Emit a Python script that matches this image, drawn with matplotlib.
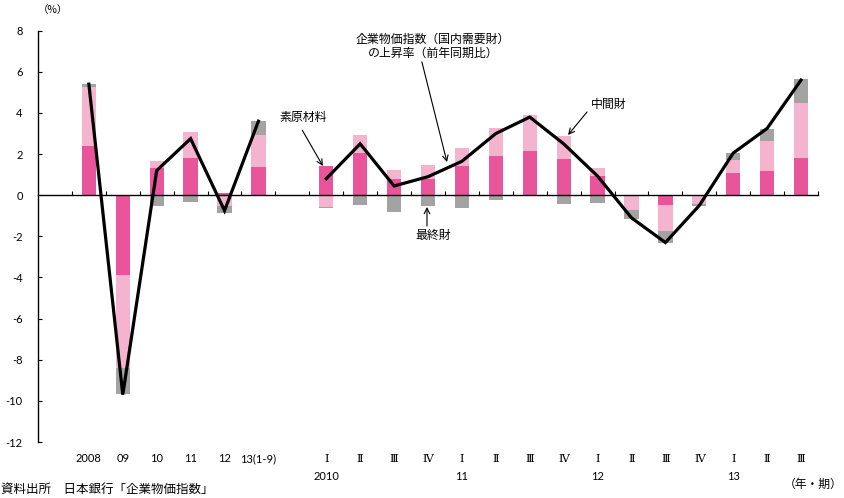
import numpy as np
import matplotlib
matplotlib.use("Agg")
import matplotlib.pyplot as plt

plt.rcParams['font.family'] = ['Noto Sans CJK JP', 'DejaVu Sans']

# 年次（2008〜13年1-9月）
annual_labels = ['2008', '09', '10', '11', '12', '13(1-9)']
annual_raw = [2.40, -3.90, 1.30, 1.80, 0.10, 1.35]      # 素原材料
annual_inter = [2.85, -4.50, 0.35, 1.25, -0.50, 1.60]   # 中間財
annual_final = [0.15, -1.25, -0.50, -0.35, -0.35, 0.65] # 最終財
annual_cgpi = [5.40, -9.70, 1.20, 2.75, -0.75, 3.60]    # 国内需要財

# 四半期（2010年Ⅰ期〜2013年Ⅲ期）
quarter_labels = ['Ⅰ', 'Ⅱ', 'Ⅲ', 'Ⅳ'] * 3 + ['Ⅰ', 'Ⅱ', 'Ⅲ']
quarter_years = ['2010', '', '', '', '11', '', '', '', '12', '', '', '', '13', '', '']
q_raw = [1.40, 2.05, 0.80, 0.78, 1.43, 1.90, 2.15, 1.75, 0.93, 0.00, -0.49, 0.00, 1.10, 1.17, 1.82]
q_inter = [-0.57, 0.90, 0.42, 0.70, 0.85, 1.35, 1.75, 1.15, 0.40, -0.70, -1.26, -0.44, 0.60, 1.46, 2.67]
q_final = [-0.06, -0.48, -0.80, -0.52, -0.60, -0.25, -0.05, -0.42, -0.36, -0.45, -0.55, -0.08, 0.33, 0.58, 1.14]
q_cgpi = [0.80, 2.50, 0.45, 0.90, 1.65, 3.00, 3.80, 2.50, 0.93, -1.10, -2.30, -0.50, 2.05, 3.25, 5.60]

colors = ['#E8559A', '#F4B4CF', '#A3A3A3']
num_font = ['Lato', 'Noto Sans CJK JP']
roman_font = ['DejaVu Serif', 'Noto Sans CJK JP']

x_annual = np.arange(1, 7)
x_quarter = np.arange(8, 23)

fig = plt.figure(figsize=(8.45, 4.98), dpi=100)
ax = fig.add_axes([38 / 845, 1 - 442 / 498, 780 / 845, 411.3 / 498])


def stacked(x, parts):
    # プラスとマイナスを別々に積み上げる
    pos = np.zeros(len(x))
    neg = np.zeros(len(x))
    for vals, c in zip(parts, colors):
        vals = np.asarray(vals, dtype=float)
        bottom = np.where(vals >= 0, pos, neg)
        ax.bar(x, vals, bottom=bottom, width=0.42, color=c, linewidth=0, zorder=2)
        pos = pos + np.clip(vals, 0, None)
        neg = neg + np.clip(vals, None, 0)


stacked(x_annual, [annual_raw, annual_inter, annual_final])
stacked(x_quarter, [q_raw, q_inter, q_final])

ax.plot(x_annual, annual_cgpi, color='black', lw=2.3, zorder=4, solid_joinstyle='miter')
ax.plot(x_quarter, q_cgpi, color='black', lw=2.3, zorder=4, solid_joinstyle='miter')

# 軸
ax.set_xlim(-0.5, 22.5)
ax.set_ylim(-12, 8)
for s in ['top', 'right']:
    ax.spines[s].set_visible(False)
ax.spines['bottom'].set_position(('data', 0))
ax.spines['bottom'].set_linewidth(1.0)
ax.spines['bottom'].set_zorder(3)
ax.spines['left'].set_linewidth(1.0)
ax.set_xticks(np.arange(0.5, 23, 1))
ax.tick_params(axis='x', direction='in', length=3, width=0.8, labelbottom=False)
ax.set_yticks(np.arange(-12, 9, 2))
ax.set_yticklabels([str(v) for v in range(-12, 9, 2)], fontfamily=num_font, fontsize=8)
ax.tick_params(axis='y', direction='in', length=3, width=0.8, pad=11)

# 横軸ラベル
tr = ax.get_xaxis_transform()
for x, lab in zip(x_annual, annual_labels):
    ax.text(x, -0.041, lab, transform=tr, ha='center', va='center', fontsize=8, family=num_font)
for x, lab, yr in zip(x_quarter, quarter_labels, quarter_years):
    ax.text(x, -0.041, lab, transform=tr, ha='center', va='center', fontsize=8, family=roman_font)
    if yr:
        ax.text(x, -0.083, yr, transform=tr, ha='center', va='center', fontsize=8, family=num_font)

fig.text(53 / 845, 1 - 10 / 498, '（%）', ha='center', va='center', fontsize=7.5)
fig.text(843 / 845, 1 - 484 / 498, '（年・期）', ha='right', va='center', fontsize=8.5)
fig.text(1 / 845, 1 - 489 / 498, '資料出所　日本銀行「企業物価指数」', ha='left', va='center', fontsize=9)

# 注記
fs = 8.6
arrow = dict(arrowstyle='->', lw=0.8, color='black', shrinkA=0, shrinkB=0)
ax.text(11.15, 7.60, '企業物価指数（国内需要財）', ha='center', va='center', fontsize=fs)
ax.text(11.15, 6.91, 'の上昇率（前年同期比）', ha='center', va='center', fontsize=fs)
ax.annotate('', xy=(11.56, 1.61), xytext=(10.82, 6.48), arrowprops=arrow, zorder=5)

ax.text(7.31, 3.80, '素原材料', ha='center', va='center', fontsize=fs)
ax.annotate('', xy=(7.90, 1.42), xytext=(7.29, 3.17), arrowprops=arrow, zorder=5)

ax.text(11.15, -1.98, '最終財', ha='center', va='center', fontsize=fs)
ax.annotate('', xy=(10.97, -0.57), xytext=(10.97, -1.50), arrowprops=arrow, zorder=5)

ax.text(16.34, 4.39, '中間財', ha='center', va='center', fontsize=fs)
ax.annotate('', xy=(15.13, 2.93), xytext=(15.69, 4.05), arrowprops=arrow, zorder=5)

fig.savefig('out.png', dpi=100)
